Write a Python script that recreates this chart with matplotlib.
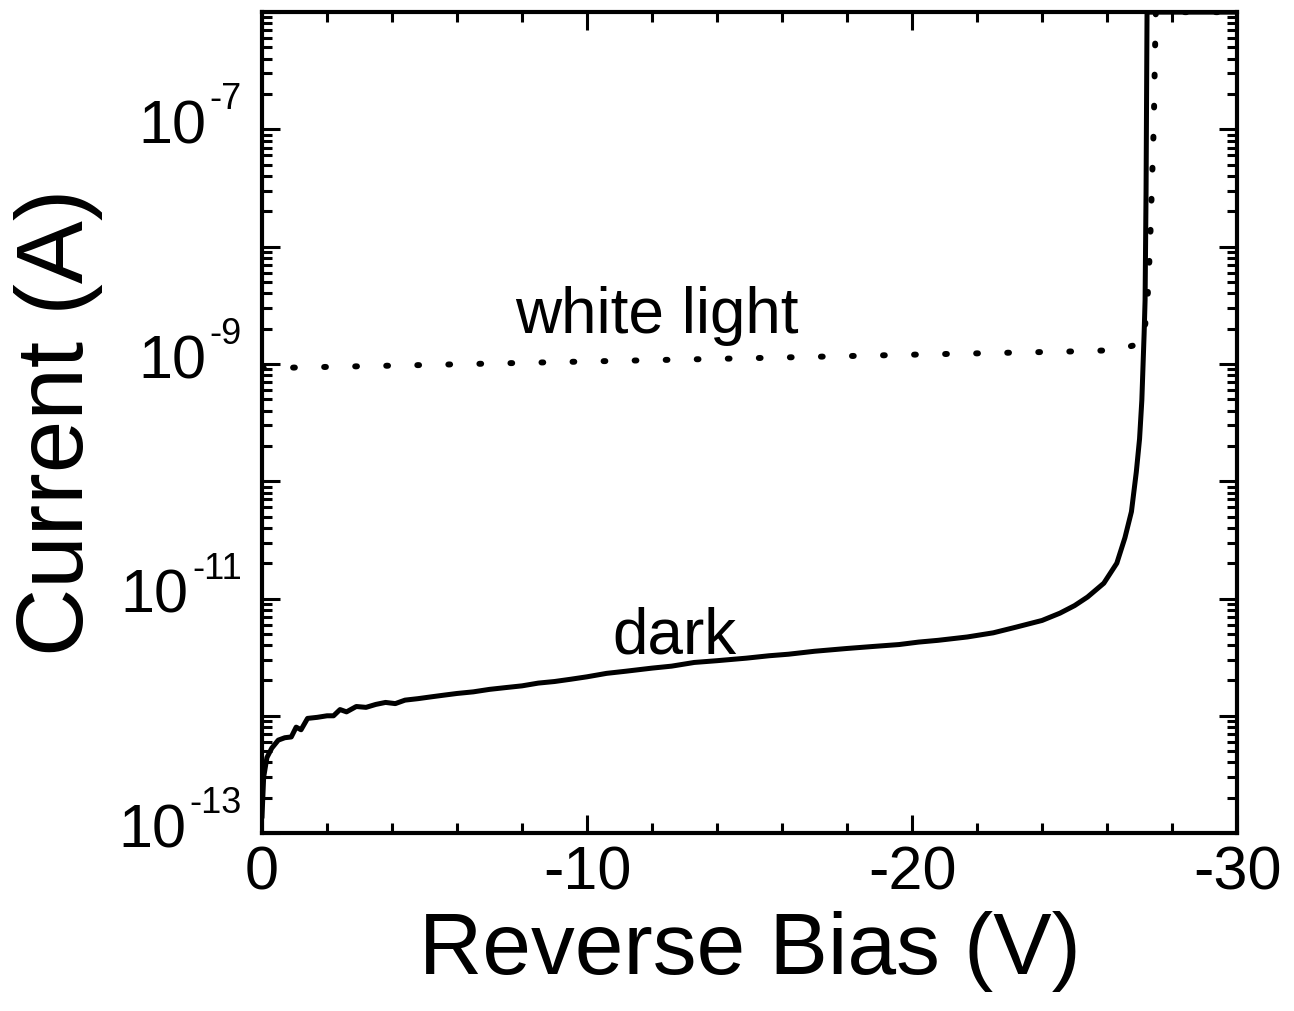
import matplotlib
matplotlib.use("Agg")
import matplotlib.pyplot as plt
import matplotlib.ticker as mticker
import numpy as np

plt.rcParams["font.family"] = ["Liberation Sans", "DejaVu Sans"]
plt.rcParams["axes.unicode_minus"] = False

# dark current (reverse bias in V as positive magnitude, current in A)
dark_v = [0.0, 0.05, 0.15, 0.3, 0.5, 0.7, 0.9, 1.05, 1.2, 1.4, 1.7, 2.0, 2.2, 2.4,
          2.6, 2.9, 3.2, 3.5, 3.8, 4.1, 4.4, 4.8, 5.2, 5.6, 6.0, 6.5, 7.0, 7.5,
          8.0, 8.5, 9.0, 9.5, 10.0, 10.6, 11.2, 12.0, 12.6, 13.3, 14.0, 14.9,
          15.6, 16.2, 17.0, 18.0, 18.8, 19.6, 20.2, 20.8, 21.7, 22.5, 23.2,
          24.0, 24.55, 25.0, 25.4, 25.9, 26.3, 26.55, 26.75, 26.9, 27.0, 27.07,
          27.14, 27.17, 27.2, 27.23, 30.0]
dark_i = [1.4e-13, 3.0e-13, 4.4e-13, 5.3e-13, 6.2e-13, 6.5e-13, 6.6e-13, 8.0e-13,
          7.6e-13, 9.5e-13, 9.7e-13, 1.0e-12, 1.0e-12, 1.13e-12, 1.08e-12,
          1.2e-12, 1.18e-12, 1.25e-12, 1.3e-12, 1.27e-12, 1.36e-12, 1.4e-12,
          1.45e-12, 1.5e-12, 1.55e-12, 1.6e-12, 1.68e-12, 1.74e-12, 1.8e-12,
          1.9e-12, 1.96e-12, 2.05e-12, 2.15e-12, 2.3e-12, 2.4e-12, 2.55e-12,
          2.65e-12, 2.85e-12, 2.95e-12, 3.1e-12, 3.25e-12, 3.35e-12, 3.55e-12,
          3.75e-12, 3.9e-12, 4.05e-12, 4.25e-12, 4.4e-12, 4.7e-12, 5.1e-12,
          5.7e-12, 6.5e-12, 7.5e-12, 8.7e-12, 1.03e-11, 1.35e-11, 2.0e-11,
          3.3e-11, 5.5e-11, 1.2e-10, 2.3e-10, 4.9e-10, 1.8e-9, 3.5e-9, 3.0e-8,
          1.0e-6, 1.0e-6]

# white light
light_v = [0.0, 5.0, 10.0, 15.0, 20.0, 25.0, 26.2, 27.1, 27.23, 27.32, 27.38,
           27.44, 27.47, 27.5, 30.0]
light_i = [9.2e-10, 9.8e-10, 1.05e-9, 1.12e-9, 1.2e-9, 1.28e-9, 1.31e-9, 1.5e-9,
           2.9e-9, 9.7e-9, 3.3e-8, 1.15e-7, 3.9e-7, 1.0e-6, 1.0e-6]

xticks = [0, -10, -20, -30]
xticklabels = ["0", "-10", "-20", "-30"]
ydecades = [-13, -12, -11, -10, -9, -8, -7, -6]
ylabelled = [-13, -11, -9, -7]

fig = plt.figure(figsize=(12.94, 10.11), dpi=100)
ax = fig.add_axes([0.2025, 0.176, 0.7535, 0.812])

ax.plot(-np.array(light_v), light_i, color="black", lw=4.3,
        linestyle=(0, (0.3, 4.9)), dash_capstyle="round", solid_capstyle="round")
ax.plot(-np.array(dark_v), dark_i, color="black", lw=3.6, solid_joinstyle="round")

ax.set_yscale("log")
ax.set_xlim(0, -30)
ax.set_ylim(1e-13, 1e-6)

ax.set_xticks(xticks)
ax.set_xticklabels(xticklabels)
ax.xaxis.set_minor_locator(mticker.MultipleLocator(2))

ax.yaxis.set_major_locator(mticker.FixedLocator([10.0 ** d for d in ydecades]))
ax.yaxis.set_minor_locator(mticker.LogLocator(base=10, subs=np.arange(2, 10), numticks=100))
ax.yaxis.set_major_formatter(mticker.NullFormatter())
ax.yaxis.set_minor_formatter(mticker.NullFormatter())

# y tick labels: "10" with a small raised exponent using a plain hyphen
for e in ylabelled:
    sup = ax.annotate("-%d" % abs(e), xy=(0, 10.0 ** e),
                      xycoords=("axes fraction", "data"),
                      xytext=(-14.4, 14.4), textcoords="offset points",
                      ha="right", va="baseline", fontsize=26)
    ax.annotate("10", xy=(0, 0), xycoords=sup, xytext=(-2.5, -19),
                textcoords="offset points", ha="right", va="baseline", fontsize=44)

ax.tick_params(which="both", direction="in", top=True, right=True, width=2.2,
               labelsize=44, color="black")
ax.tick_params(which="major", length=13)
ax.tick_params(which="minor", length=7)
ax.tick_params(axis="x", pad=9)
for s in ax.spines.values():
    s.set_linewidth(3)

ax.set_xlabel("Reverse Bias (V)", fontsize=63)
ax.set_ylabel("Current (A)", fontsize=68)
ax.xaxis.set_label_coords(0.5, -0.095)
ax.yaxis.set_label_coords(-0.163, 0.5)

ax.text(-7.78, 1.83e-9, "white light", fontsize=46, ha="left", va="baseline")
ax.text(-10.77, 3.43e-12, "dark", fontsize=46, ha="left", va="baseline")

fig.savefig("out.png", dpi=100)
